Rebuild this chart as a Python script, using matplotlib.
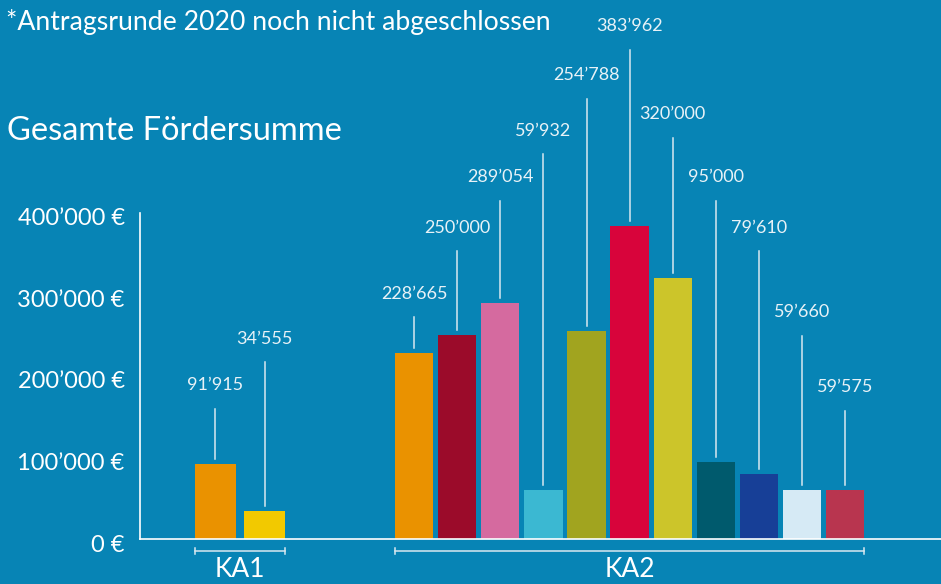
import matplotlib.pyplot as plt
import matplotlib.transforms as mtransforms

# Daten
ka1_werte = [91915, 34555]
ka2_werte = [228665, 250000, 289054, 59932, 254788, 383962, 320000, 95000, 79610, 59660, 59575]
ka1_farben = ['#EA9200', '#F2C900']
ka2_farben = ['#EA9200', '#9B0B2A', '#D56A9F', '#3BB8D2', '#A1A41F', '#D8043B',
              '#CCC52A', '#005A6D', '#173F97', '#D6EAF5', '#B8354F']
# Höhe der Hinweislinien (Oberkante), gestaffelt
ka1_linie = [159500, 217000]
ka2_linie = [272000, 353000, 415000, 472000, 540000, 600000, 492000, 415000, 353000, 249000, 157000]
yticks = [0, 100000, 200000, 300000, 400000]

bg = '#0784B5'
plt.rcParams['font.family'] = ['Lato', 'DejaVu Sans']

def fmt(v):
    return '{:,}'.format(v).replace(',', '\u2019')

fig = plt.figure(figsize=(9.41, 5.84), dpi=100, facecolor=bg)
ax = fig.add_axes([140/941, 45/584, 801/941, 326/584])
ax.set_facecolor(bg)
ax.set_xlim(0, 801/43.1)
ax.set_ylim(0, 400000)

x1 = [1.75 + 1.14*i for i in range(len(ka1_werte))]
x2 = [6.36 + 1.0*i for i in range(len(ka2_werte))]

ax.bar(x1, ka1_werte, width=0.95, color=ka1_farben, zorder=2)
ax.bar(x2, ka2_werte, width=0.89, color=ka2_farben, zorder=2)

gap = 5/326*400000
for xs, ws, ls in [(x1, ka1_werte, ka1_linie), (x2, ka2_werte, ka2_linie)]:
    for x, w, l in zip(xs, ws, ls):
        ax.plot([x, x], [w + gap, l], color='#D8E8F0', lw=1.1, clip_on=False, zorder=1)
        ax.text(x, l + 29000, fmt(w), ha='center', va='center', color='#E8F2F7',
                fontsize=13, clip_on=False)

for s in ['top', 'right']:
    ax.spines[s].set_visible(False)
for s in ['left', 'bottom']:
    ax.spines[s].set_color('white')
    ax.spines[s].set_linewidth(1.2)

ax.set_yticks(yticks)
ax.set_yticklabels([('0' if v == 0 else fmt(v)) + ' \u20ac' for v in yticks])
ax.tick_params(axis='y', length=0, pad=11, labelsize=17, labelcolor='white')
versatz = mtransforms.ScaledTranslation(0, -4/100, fig.dpi_scale_trans)
for t in ax.get_yticklabels():
    t.set_transform(t.get_transform() + versatz)
ax.set_xticks([])

# Gruppenklammern
by = -12/326*400000
for a, b, name in [(x1[0] - 0.95/2, x1[-1] + 0.95/2, 'KA1'), (x2[0] - 0.89/2, x2[-1] + 0.89/2, 'KA2')]:
    ax.plot([a, b], [by, by], color='#D8E8F0', lw=1.1, clip_on=False)
    for e in (a, b):
        ax.plot([e, e], [by - 4000, by + 4000], color='#D8E8F0', lw=1.1, clip_on=False)
    ax.text((a + b)/2, by - 7500, name, ha='center', va='top', color='white',
            fontsize=19, clip_on=False)

fig.text(6/941, 1 - 22/584, '*Antragsrunde 2020 noch nicht abgeschlossen', color='white',
         fontsize=19.2, va='center')
fig.text(7/941, 1 - 131/584, 'Gesamte Fördersumme', color='white',
         fontsize=23.5, va='center')

fig.savefig('out.png', dpi=100, facecolor=bg)
